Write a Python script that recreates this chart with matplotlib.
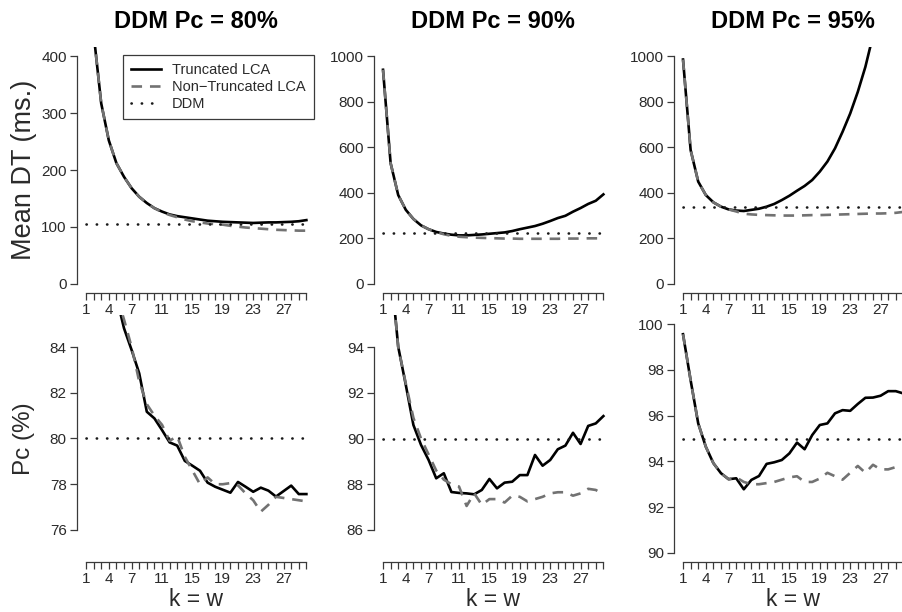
import matplotlib
matplotlib.use('Agg')
import matplotlib.pyplot as plt

plt.rcParams['font.family'] = ['Liberation Sans', 'DejaVu Sans']

k = list(range(1, 31))
xtick_labels_shown = [1, 4, 7, 11, 15, 19, 23, 27]
titles = ['DDM Pc = 80%', 'DDM Pc = 90%', 'DDM Pc = 95%']

# Mean DT (ms.)
dt80_trunc = [900, 440, 317, 252, 212, 188, 168, 153, 142, 133, 127, 122, 119, 117, 115,
              113, 111, 110, 109, 108.5, 108, 107.5, 107, 107.5, 108, 108, 108.5, 109, 110, 112]
dt80_nontrunc = [900, 440, 317, 252, 212, 188, 168, 153, 142, 133, 126, 121, 117, 113, 110,
                 108, 106, 105, 104, 102, 100.5, 99, 98, 97, 96, 95, 94.5, 94, 93.5, 93.5]
dt90_trunc = [940, 530, 390, 325, 285, 257, 240, 228, 221, 216, 213, 213, 215, 217, 220,
              223, 226, 232, 240, 247, 254, 264, 276, 289, 299, 317, 333, 351, 365, 393]
dt90_nontrunc = [940, 530, 390, 325, 285, 257, 240, 228, 218, 211, 207, 205, 203, 202, 201,
                 200, 199, 199, 198, 198, 198, 198, 198, 198, 199, 199, 199, 200, 200, 200]
dt95_trunc = [985, 588, 449, 390, 358, 339, 327, 322, 320, 325, 330, 339, 351, 368, 387,
              409, 430, 456, 493, 537, 595, 668, 748, 843, 953, 1090, 1250, 1430, 1640, 1880]
dt95_nontrunc = [985, 588, 449, 390, 358, 339, 327, 318, 308, 305, 303, 302, 301, 300, 300,
                 300, 301, 302, 302, 303, 304, 305, 306, 307, 308, 309, 309, 310, 312, 316]
ddm_dt = [106, 225, 339]

# Pc (%)
pc80_trunc = [99, 95, 91, 88.5, 86.2, 84.82, 83.87, 82.85, 81.17, 80.88, 80.37, 79.83, 79.69, 79.02, 78.81,
              78.59, 78.07, 77.89, 77.76, 77.63, 78.1, 77.89, 77.67, 77.85, 77.72, 77.46, 77.70, 77.94, 77.57, 77.57]
pc80_nontrunc = [99, 95, 91, 88.5, 86.3, 85.2, 84.0, 82.5, 81.5, 81.0, 80.6, 79.9, 80.1, 79.2, 78.6,
                 78.0, 78.3, 78.0, 78.0, 78.05, 77.95, 77.6, 77.3, 76.8, 77.1, 77.45, 77.4, 77.35, 77.3, 77.25]
pc90_trunc = [100, 97.5, 94.01, 92.34, 90.59, 89.72, 89.06, 88.26, 88.48, 87.66, 87.62, 87.6, 87.56, 87.75, 88.23,
              87.82, 88.07, 88.11, 88.40, 88.40, 89.28, 88.81, 89.06, 89.53, 89.69, 90.25, 89.76, 90.55, 90.66, 90.98]
pc90_nontrunc = [100, 97.5, 94.0, 92.4, 90.9, 90.0, 89.3, 88.6, 88.2, 88.0, 87.9, 87.05, 87.6, 87.1, 87.35,
                 87.35, 87.2, 87.5, 87.45, 87.25, 87.35, 87.45, 87.6, 87.65, 87.65, 87.5, 87.6, 87.8, 87.75, 87.55]
pc95_trunc = [99.56, 97.55, 95.66, 94.64, 93.92, 93.48, 93.22, 93.26, 92.78, 93.19, 93.36, 93.89, 93.96, 94.06, 94.35,
              94.82, 94.53, 95.15, 95.59, 95.66, 96.10, 96.24, 96.21, 96.51, 96.78, 96.79, 96.87, 97.07, 97.07, 96.97]
pc95_nontrunc = [99.56, 97.55, 95.66, 94.64, 93.92, 93.48, 93.22, 93.30, 93.1, 93.0, 93.0, 93.05, 93.1, 93.2, 93.3,
                 93.35, 93.1, 93.1, 93.25, 93.5, 93.35, 93.2, 93.5, 93.8, 93.5, 93.85, 93.65, 93.65, 93.75, 93.8]
ddm_pc = [80, 90, 95]

top_yticks = [[0, 100, 200, 300, 400], [0, 200, 400, 600, 800, 1000], [0, 200, 400, 600, 800, 1000]]
bot_yticks = [[76, 78, 80, 82, 84], [86, 88, 90, 92, 94], [90, 92, 94, 96, 98, 100]]
top_ylim = [(-16, 416), (-40, 1040), (-40, 1040)]
bot_ylim = [(74.6, 85.4), (84.6, 95.4), (89.6, 100.4)]

top_data = [(dt80_trunc, dt80_nontrunc), (dt90_trunc, dt90_nontrunc), (dt95_trunc, dt95_nontrunc)]
bot_data = [(pc80_trunc, pc80_nontrunc), (pc90_trunc, pc90_nontrunc), (pc95_trunc, pc95_nontrunc)]

W, H = 902, 612
fig = plt.figure(figsize=(W / 100, H / 100), dpi=100)

col_left = [77.2, 374.2, 674.2]
col_w = 238.0
rows = [(47, 293), (315, 562)]

AX_COL = '#3a3a3a'
TXT_COL = '#2a2a2a'
GRAY = '#727272'


def make_ax(left, top, bottom):
    return fig.add_axes([left / W, 1 - bottom / H, col_w / W, (bottom - top) / H])


def style(ax, yticks, ylim):
    ax.set_xlim(-0.16, 31.16)
    ax.set_ylim(*ylim)
    for s in ['top', 'right']:
        ax.spines[s].set_visible(False)
    ax.spines['left'].set_bounds(yticks[0], yticks[-1])
    ax.spines['bottom'].set_bounds(1, 30)
    for s in ['left', 'bottom']:
        ax.spines[s].set_color(AX_COL)
        ax.spines[s].set_linewidth(0.9)
    ax.set_xticks(k)
    ax.set_xticklabels([str(v) if v in xtick_labels_shown else '' for v in k])
    ax.set_yticks(yticks)
    ax.set_yticklabels([str(v) for v in yticks])
    ax.tick_params(direction='out', length=5, width=0.9, color=AX_COL,
                   labelsize=11, labelcolor=TXT_COL, pad=2.5)


for r, (top, bottom) in enumerate(rows):
    for c in range(3):
        ax = make_ax(col_left[c], top, bottom)
        if r == 0:
            tr, nt = top_data[c]
            ddm = ddm_dt[c]
            style(ax, top_yticks[c], top_ylim[c])
        else:
            tr, nt = bot_data[c]
            ddm = ddm_pc[c]
            style(ax, bot_yticks[c], bot_ylim[c])
        h1, = ax.plot(k, tr, color='black', lw=1.9, solid_joinstyle='round',
                      label='Truncated LCA')
        h2, = ax.plot(k, nt, color=GRAY, lw=1.9, dashes=(4, 3),
                      label='Non\u2212Truncated LCA')
        h3, = ax.plot(k, [ddm] * len(k), color='#1a1a1a', lw=1.9,
                      linestyle=(0, (0.1, 3.8)), dash_capstyle='round', label='DDM')
        if r == 0:
            ax.set_title(titles[c], fontsize=17, fontweight='bold', color='black',
                         y=(bottom - 22) / (bottom - top), va='center', pad=0)
            if c == 0:
                ax.set_ylabel('Mean DT (ms.)', fontsize=19.5, color=TXT_COL, va='center')
                ax.yaxis.set_label_coords((24 - col_left[0]) / col_w, 0.5)
                leg = ax.legend(handles=[h1, h2, h3], loc='upper left',
                                bbox_to_anchor=(0.194, 0.967), frameon=True,
                                fancybox=False, edgecolor=AX_COL, framealpha=1,
                                fontsize=10.5, handlelength=2.0, handletextpad=0.8,
                                borderpad=0.55, labelspacing=0.2, borderaxespad=0)
                leg.get_frame().set_linewidth(0.9)
                for t in leg.get_texts():
                    t.set_color(TXT_COL)
        else:
            ax.set_xlabel('k = w', fontsize=16.5, color=TXT_COL, va='center')
            ax.xaxis.set_label_coords(0.5, (bottom - 600) / (bottom - top))
            if c == 0:
                ax.set_ylabel('Pc (%)', fontsize=17.5, color=TXT_COL, va='center')
                ax.yaxis.set_label_coords((24 - col_left[0]) / col_w, 0.5)

fig.savefig('out.png', dpi=100, facecolor='white')
